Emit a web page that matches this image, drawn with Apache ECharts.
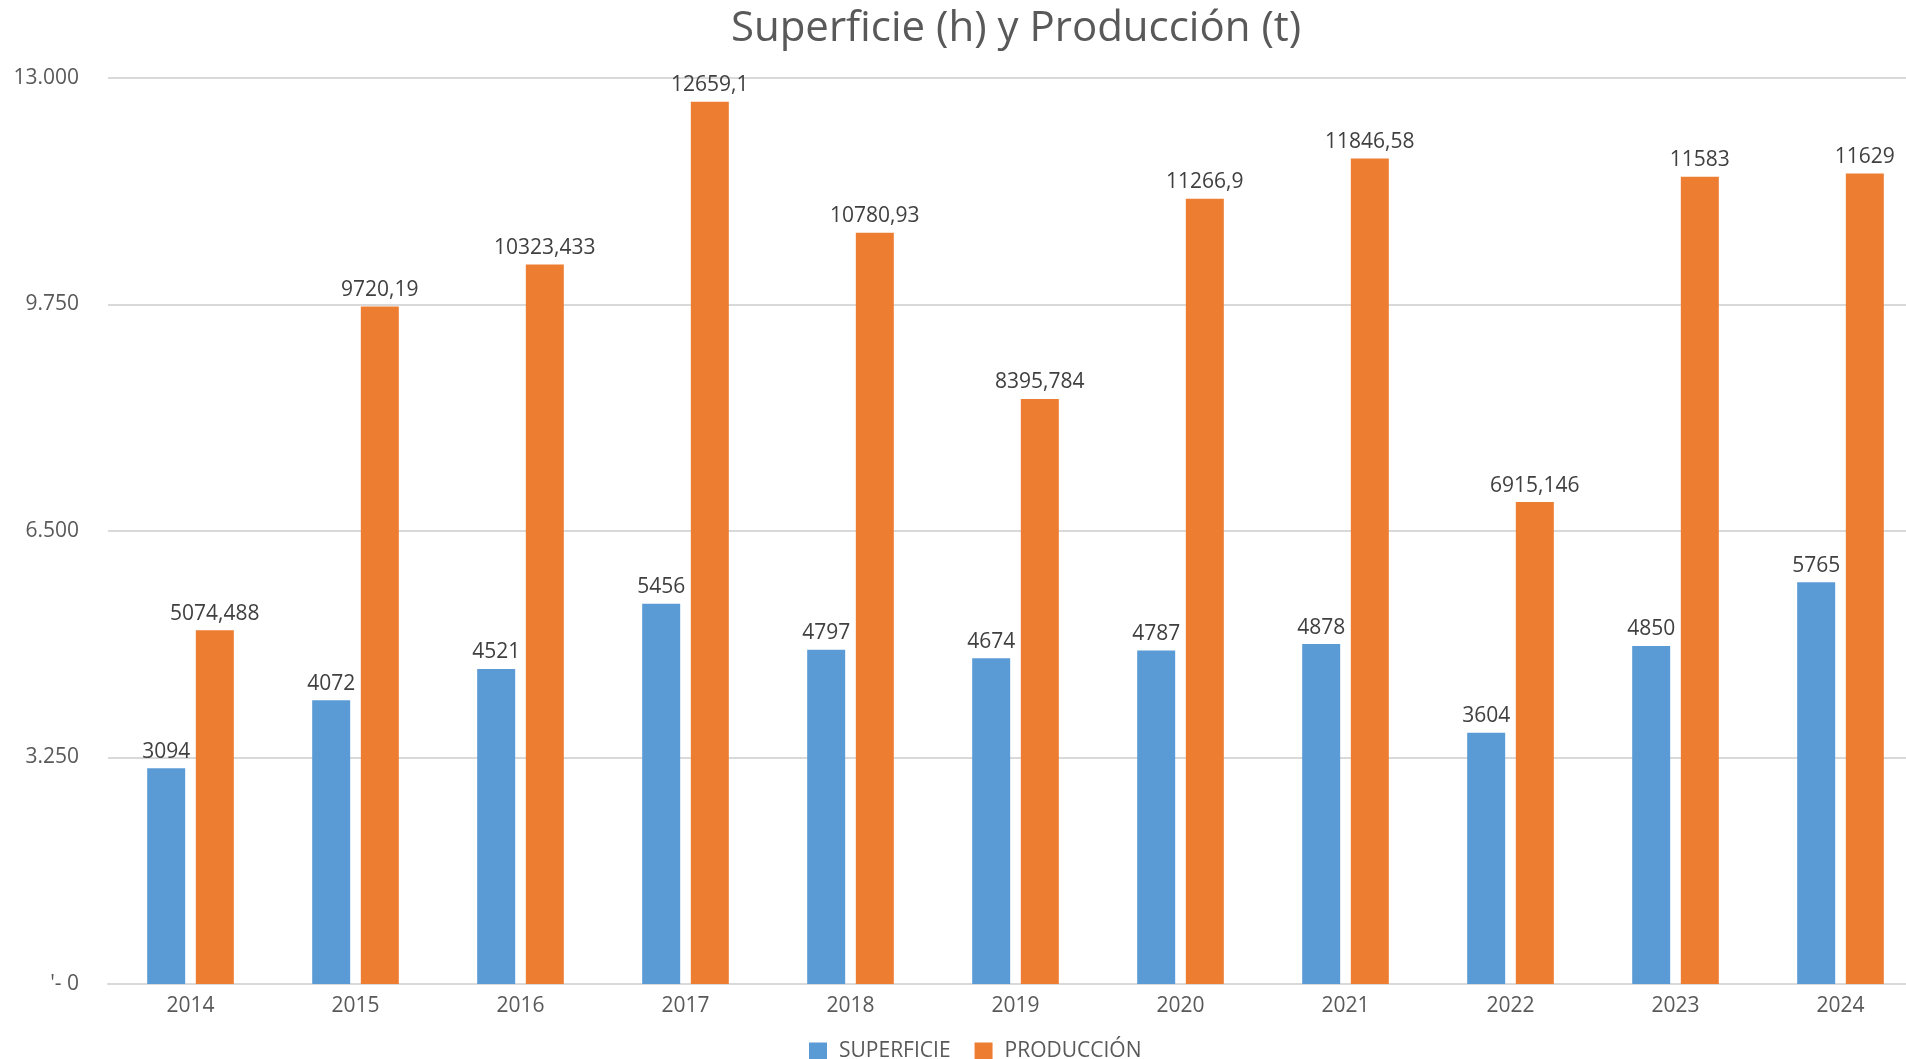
<!DOCTYPE html>
<html>
<head>
<meta charset="utf-8">
<script src="https://cdn.jsdelivr.net/npm/echarts@6/dist/echarts.min.js"></script>
<style>
  html, body { margin: 0; padding: 0; background: #fff; }
  #chart { width: 1906px; height: 1059px; }
</style>
</head>
<body>
<div id="chart"></div>
<script>
// years on the x axis
const years = ['2014', '2015', '2016', '2017', '2018', '2019', '2020', '2021', '2022', '2023', '2024'];
// superficie (h)
const superficie = [3094, 4072, 4521, 5456, 4797, 4674, 4787, 4878, 3604, 4850, 5765];
// producción (t)
const produccion = [5074.488, 9720.19, 10323.433, 12659.1, 10780.93, 8395.784, 11266.9, 11846.58, 6915.146, 11583, 11629];

const FONT = '"Open Sans", sans-serif';

// Spanish style: decimal comma, thousands dot on the axis
const fmtLabel = v => String(v).replace('.', ',');
const fmtAxis = v => {
  if (v === 0) return "'- 0";
  return String(v).replace(/\B(?=(\d{3})+(?!\d))/g, '.');
};

const chart = echarts.init(document.getElementById('chart'));

const labelStyle = {
  show: true,
  position: 'top',
  distance: 6,
  color: '#404040',
  fontFamily: FONT,
  fontSize: 21,
  formatter: p => fmtLabel(p.value)
};

chart.setOption({
  animation: false,
  backgroundColor: '#ffffff',
  title: {
    text: 'Superficie (h) y Producción (t)',
    left: 1011,
    textAlign: 'center',
    top: 3,
    textStyle: {
      fontFamily: FONT,
      fontSize: 42,
      fontWeight: 'normal',
      color: '#595959'
    }
  },
  legend: {
    data: ['SUPERFICIE', 'PRODUCCIÓN'],
    left: 804,
    top: 1036,
    icon: 'rect',
    itemWidth: 18,
    itemHeight: 18,
    itemGap: 24,
    textStyle: {
      fontFamily: FONT,
      fontSize: 21,
      color: '#595959',
      padding: [0, 0, 0, 7]
    }
  },
  grid: {
    left: 108,
    top: 78,
    width: 1815,
    bottom: 75,
    containLabel: false,
    outerBoundsMode: 'none'
  },
  xAxis: {
    type: 'category',
    data: years,
    axisTick: { show: false },
    axisLine: { lineStyle: { color: '#d9d9d9', width: 2 } },
    axisLabel: {
      margin: 12,
      color: '#595959',
      fontFamily: FONT,
      fontSize: 21
    }
  },
  yAxis: {
    type: 'value',
    min: 0,
    max: 13000,
    interval: 3250,
    axisLine: { show: false },
    axisTick: { show: false },
    splitLine: { lineStyle: { color: '#d9d9d9', width: 2 } },
    axisLabel: {
      margin: 29,
      color: '#595959',
      fontFamily: FONT,
      fontSize: 21,
      formatter: fmtAxis
    }
  },
  series: [
    {
      name: 'SUPERFICIE',
      type: 'bar',
      data: superficie,
      barWidth: 38,
      barGap: '28%',
      color: '#5B9BD5',
      label: labelStyle
    },
    {
      name: 'PRODUCCIÓN',
      type: 'bar',
      data: produccion,
      barWidth: 38,
      barGap: '28%',
      color: '#ED7D31',
      label: labelStyle
    }
  ]
});
</script>
</body>
</html>
